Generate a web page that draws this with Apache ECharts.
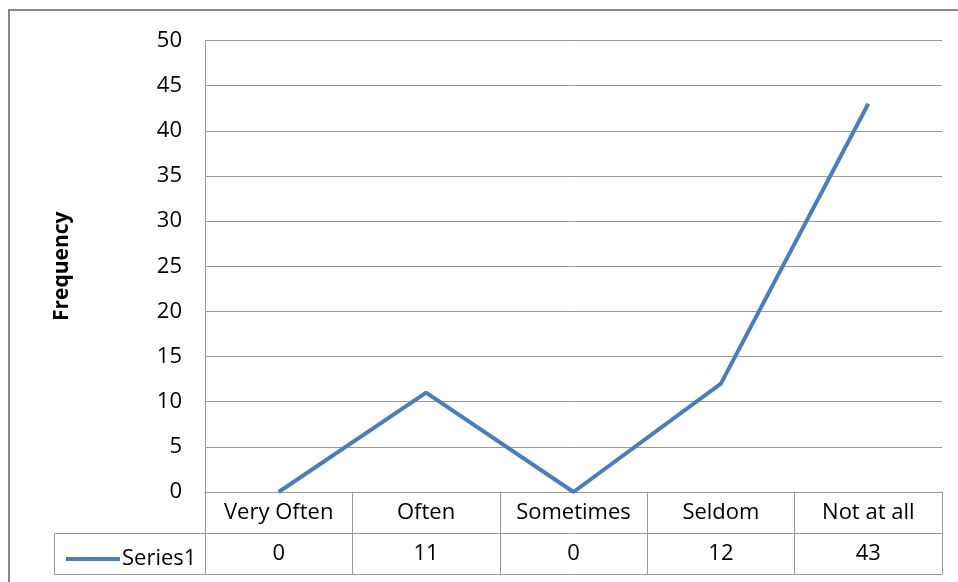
<!DOCTYPE html>
<html>
<head>
<meta charset="utf-8">
<script src="https://cdn.jsdelivr.net/npm/echarts@6/dist/echarts.min.js"></script>
<style>
html,body{margin:0;padding:0;background:#fff;}
#chart{width:958px;height:582px;}
</style>
</head>
<body>
<div id="chart"></div>
<script>
var categories = ["Very Often","Often","Sometimes","Seldom","Not at all"];
var seriesName = "Series1";
var seriesValues = [0,11,0,12,43];
var yTicks = {min:0,max:50,interval:5};

var gridLeft = 205, gridRight = 16, gridTop = 40.5, gridBottom = 90;
var rowH = 41;
var font = "Open Sans";
var fs = 22;
var lineColor = "#999";
var blue = "#4a7ebb";

var dom = document.getElementById("chart");
var myChart = echarts.init(dom);
var axisY = 582 - gridBottom;

myChart.setOption({
	animation:false,
	textStyle:{fontFamily:font},
	grid:{left:gridLeft,right:gridRight,top:gridTop,bottom:gridBottom},
	legend:{
		data:[{name:seriesName,icon:'rect'}],
		left:61, top:axisY+rowH+10,
		itemWidth:54, itemHeight:4, itemGap:0,
		textStyle:{fontSize:fs,color:'#000',padding:[0,0,0,-3],fontFamily:font}
	},
	xAxis:[
		{
			type:'category', data:categories, position:'bottom',
			axisLine:{lineStyle:{color:lineColor,width:1}},
			axisTick:{show:true,interval:0,length:rowH*2,lineStyle:{color:lineColor}},
			axisLabel:{fontSize:fs,color:'#000',margin:10,interval:0}
		},
		{
			type:'category', data:seriesValues.map(String), position:'bottom', offset:rowH,
			axisLine:{lineStyle:{color:lineColor,width:1}},
			axisTick:{show:false},
			axisLabel:{fontSize:fs,color:'#000',margin:10,interval:0}
		},
		{
			type:'category', data:categories, position:'bottom', offset:rowH*2,
			axisLine:{lineStyle:{color:lineColor,width:1}},
			axisTick:{show:false},
			axisLabel:{show:false}
		}
	],
	yAxis:{
		type:'value', min:yTicks.min, max:yTicks.max, interval:yTicks.interval,
		name:'Frequency', nameLocation:'middle', nameGap:132, nameRotate:90,
		nameTextStyle:{fontSize:21,fontWeight:'bold',color:'#000',fontFamily:font},
		axisLine:{show:true,lineStyle:{color:lineColor,width:1}},
		axisTick:{show:false},
		axisLabel:{fontSize:fs,color:'#000',margin:23},
		splitLine:{lineStyle:{color:lineColor,width:1}}
	},
	series:[{
		name:seriesName, type:'line', data:seriesValues, xAxisIndex:0,
		symbol:'none', lineStyle:{width:4,color:blue}, itemStyle:{color:blue}
	}],
	graphic:[
		{type:'rect',shape:{x:9,y:10,width:1000,height:700},style:{fill:'none',stroke:'#888',lineWidth:2},silent:true},
		{type:'rect',shape:{x:54.5,y:axisY+rowH+0.5,width:gridLeft-54,height:rowH},style:{fill:'none',stroke:lineColor,lineWidth:1},silent:true}
	]
});
</script>
</body>
</html>
